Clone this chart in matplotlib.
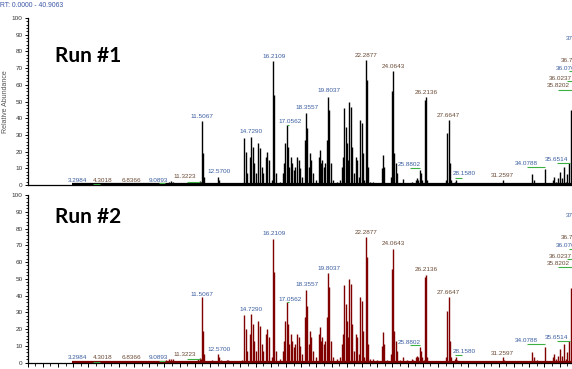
import matplotlib
matplotlib.use('Agg')
import matplotlib.pyplot as plt
from matplotlib.ticker import MultipleLocator

# Chromatogram sticks: retention time (min) and relative abundance (%)
rt = [4.30, 6.84, 9.09, 9.30, 9.45, 9.57, 10.90, 11.24, 11.32, 11.40, 11.50, 11.56, 11.63, 12.12,
      12.51, 12.60, 12.71, 13.10, 13.21, 14.09, 14.27, 14.35, 14.46, 14.64, 14.70,
      14.81, 14.92, 15.00, 15.18, 15.29, 15.40, 15.51, 15.69, 15.78, 15.86, 16.06,
      16.17, 16.24, 16.33, 16.61, 16.79, 16.87, 16.96, 17.05, 17.12, 17.20, 17.34,
      17.42, 17.53, 17.62, 17.75, 17.84, 17.95, 18.06, 18.23, 18.32, 18.39, 18.50,
      18.58, 18.67, 18.80, 18.98, 19.15, 19.22, 19.31, 19.40, 19.48, 19.59, 19.70,
      19.79, 19.86, 19.94, 20.08, 20.34, 20.56, 20.67, 20.76, 20.84, 20.93, 21.02,
      21.11, 21.17, 21.26, 21.35, 21.46, 21.61, 21.70, 21.81, 21.90, 21.98, 22.07,
      22.16, 22.25, 22.31, 22.40, 22.53, 22.75, 22.97, 23.30, 23.39, 23.48, 23.67,
      23.89, 23.98, 24.07, 24.13, 24.22, 24.29, 24.51, 24.73, 24.99, 25.27, 25.38,
      25.54, 25.63, 25.71, 25.82, 25.89, 25.98, 26.06, 26.17, 26.24, 26.31, 26.59,
      27.03, 27.53, 27.62, 27.71, 27.77, 27.86, 28.13, 28.19, 28.28, 28.89, 29.77,
      31.26, 31.35, 32.18, 32.73, 33.21, 33.30, 33.50, 34.07, 34.38, 34.57, 34.66,
      34.75, 34.88, 35.01, 35.19, 35.32, 35.41, 35.52, 35.65, 35.78, 35.86, 36.02,
      36.08, 36.35, 36.70, 37.05, 37.40]

run1 = [0.8, 0.8, 1.2, 2.0, 2.2, 1.8, 1.0, 2.0, 2.5, 2.0, 38.5, 19.0, 5.0, 1.2,
        5.0, 3.0, 1.5, 1.2, 1.5, 1.2, 28.0, 19.8, 7.0, 17.0, 28.9,
        23.0, 13.0, 7.0, 25.0, 22.0, 11.0, 7.0, 17.0, 20.0, 15.0, 3.0,
        74.3, 54.0, 7.0, 2.0, 7.0, 13.0, 25.0, 36.0, 23.0, 11.0, 17.0,
        13.0, 9.0, 11.0, 17.0, 15.0, 10.0, 5.0, 27.0, 43.3, 34.0, 11.0,
        19.0, 15.0, 7.0, 3.0, 17.0, 21.0, 13.0, 15.0, 11.0, 13.0, 27.0,
        53.0, 45.0, 13.0, 3.0, 2.0, 3.0, 11.0, 17.0, 46.0, 35.0, 25.0,
        15.0, 50.0, 47.0, 23.0, 7.0, 17.0, 15.0, 5.0, 39.0, 37.0, 19.0,
        3.0, 75.0, 63.0, 11.0, 2.0, 2.0, 1.5, 10.0, 18.0, 11.0, 1.5,
        5.0, 56.0, 68.0, 19.0, 13.0, 7.0, 1.5, 3.5, 1.5, 2.0, 1.5,
        3.0, 4.0, 3.0, 9.0, 7.0, 3.0, 1.5, 51.0, 53.0, 3.0, 1.0,
        1.0, 3.0, 31.0, 39.0, 13.0, 3.0, 2.0, 3.0, 1.5, 1.0, 1.0,
        3.0, 1.5, 1.0, 1.0, 6.5, 3.0, 1.5, 9.5, 1.0, 3.0, 5.0,
        2.0, 4.0, 8.0, 4.0, 11.0, 2.0, 6.5, 13.0, 45.0, 57.0, 63.0,
        68.0, 74.0, 88.0, 94.0, 60.0]

run2 = [0.8, 0.8, 1.2, 2.0, 2.2, 1.8, 1.0, 2.0, 2.5, 2.0, 38.9, 19.0, 5.0, 1.2,
        5.0, 3.0, 1.5, 1.2, 1.5, 1.2, 28.5, 20.0, 7.0, 17.0, 29.0,
        23.0, 13.0, 7.0, 25.0, 22.0, 11.0, 7.0, 17.0, 20.0, 15.0, 3.0,
        73.6, 54.0, 7.0, 2.0, 7.0, 13.0, 25.0, 36.0, 23.0, 11.0, 17.0,
        13.0, 9.0, 11.0, 17.0, 15.0, 10.0, 5.0, 27.0, 43.5, 34.0, 11.0,
        19.0, 15.0, 7.0, 3.0, 17.0, 21.0, 13.0, 15.0, 11.0, 13.0, 27.0,
        53.2, 45.0, 13.0, 3.0, 2.0, 3.0, 11.0, 17.0, 46.0, 35.0, 25.0,
        15.0, 50.0, 47.0, 23.0, 7.0, 17.0, 15.0, 5.0, 39.0, 37.0, 19.0,
        3.0, 74.7, 63.0, 11.0, 2.0, 2.0, 1.5, 10.0, 18.0, 11.0, 1.5,
        5.0, 56.0, 67.8, 19.0, 13.0, 7.0, 1.5, 3.5, 1.5, 2.0, 1.5,
        3.0, 4.0, 3.0, 9.0, 7.0, 3.0, 1.5, 51.0, 52.2, 3.0, 1.0,
        1.0, 3.0, 31.0, 39.0, 13.0, 3.0, 2.0, 3.0, 1.5, 1.0, 1.0,
        3.0, 1.5, 1.0, 1.0, 6.5, 3.0, 1.5, 9.5, 1.0, 3.0, 5.0,
        2.0, 4.0, 8.0, 4.0, 11.0, 2.0, 6.5, 13.0, 44.3, 57.0, 63.0,
        68.0, 74.0, 88.0, 94.0, 60.0]

# Peak labels (text, label x in min, label y in %, colour group)
lab_text = ['3.2984', '4.3018', '6.8366', '9.0893', '11.3223', '11.5067', '12.5700',
            '14.7290', '16.2109', '17.0562', '18.3557', '19.8037', '22.2877', '24.0643',
            '26.2136', '27.6647', '25.8802', '28.1580', '31.2597', '34.0788', '35.6514',
            '35.8202', '36.0237', '36.0765', '36.7186', '37.0215', '37.4093']
lab_x = [3.28, 4.92, 6.86, 8.61, 10.36, 11.50, 12.60, 14.70, 16.24, 17.27, 18.37,
         19.84, 22.27, 24.07, 26.22, 27.68, 25.12, 28.74, 31.26, 32.84, 34.82,
         34.95, 35.03, 35.53, 35.86, 36.18, 36.55]
lab_y = [2.7, 2.7, 2.7, 2.7, 5.0, 40.9, 8.0, 31.9, 76.8, 37.9, 46.3, 56.3, 77.8,
         70.8, 55.3, 41.5, 12.0, 6.6, 5.6, 13.0, 15.0, 59.3, 63.5, 69.9, 74.4,
         87.8, 93.8]
lab_col = ['b', 'o', 'o', 'b', 'o', 'b', 'b', 'b', 'b', 'b', 'b', 'b', 'o', 'o',
           'o', 'o', 'b', 'b', 'o', 'b', 'b', 'o', 'o', 'b', 'o', 'b', 'o']

# green baseline marks (start, end, level)
mark_x0 = [4.29, 8.65, 10.49, 17.07, 25.16, 28.13, 32.84, 34.82, 34.90, 35.47, 35.62]
mark_x1 = [4.77, 9.05, 11.35, 17.20, 25.82, 28.57, 34.05, 35.70, 35.80, 35.80, 35.80]
mark_y = [0.6, 1.0, 2.1, 36.0, 10.2, 4.2, 11.0, 13.0, 57.0, 62.0, 68.0]

rt_end = 40.9063
noise_start = 2.9

colors = {'b': '#3b5ea0', 'o': '#6a4a36'}

fig = plt.figure(figsize=(5.72, 3.69), dpi=100)
ax1 = fig.add_axes([0.0481, 0.4986, 1.087, 0.4526])
ax2 = fig.add_axes([0.0481, 0.0176, 1.087, 0.4539])

panels = [(ax1, run1, 'black', 'Run #1', 0.77), (ax2, run2, '#800000', 'Run #2', 0.866)]
for ax, vals, col, name, name_y in panels:
    ax.vlines(rt, 0, vals, color=col, lw=1.0)
    ax.hlines(0.4, noise_start, rt_end, color=col, lw=1.6)
    ax.set_xlim(0, rt_end)
    ax.set_ylim(0, 100)
    for s in ['top', 'right']:
        ax.spines[s].set_visible(False)
    for s in ['left', 'bottom']:
        ax.spines[s].set_linewidth(0.9)
    ax.yaxis.set_major_locator(MultipleLocator(10))
    ax.yaxis.set_minor_locator(MultipleLocator(2))
    ax.tick_params(axis='y', which='major', length=2.5, width=0.7, labelsize=4.6,
                   labelcolor='#333333', pad=1)
    ax.tick_params(axis='y', which='minor', length=1.5, width=0.6)
    for lab in ax.get_yticklabels():
        lab.set_family('Liberation Sans')

    for t, x, y, c in zip(lab_text, lab_x, lab_y, lab_col):
        ax.text(x, y, t, fontsize=4.6, family='Liberation Sans', color=colors[c],
                ha='center', va='center', clip_on=False)
    ax.hlines(mark_y, mark_x0, mark_x1, color='#3cb043', lw=0.8)

    # run name, placed in axes fraction
    ax.text(0.044, name_y, name, transform=ax.transAxes, fontsize=15,
            fontweight='bold', family='Lato', color='black', va='center', ha='left')

# top panel: only the baseline line, no ticks
ax1.tick_params(axis='x', which='both', bottom=False, labelbottom=False)
ax2.xaxis.set_major_locator(MultipleLocator(1))
ax2.xaxis.set_minor_locator(MultipleLocator(0.5))
ax2.tick_params(axis='x', which='major', length=3.0, width=0.7, labelbottom=False)
ax2.tick_params(axis='x', which='minor', length=1.8, width=0.6)

ax1.set_ylabel('Relative Abundance', fontsize=5, family='Liberation Sans',
               color='#555555', labelpad=2)

fig.text(0.0, 0.986, 'RT: 0.0000 - 40.9063', fontsize=4.9, family='Liberation Sans',
         color='#3a55a5', ha='left', va='center')

fig.savefig('out.png', dpi=100)
